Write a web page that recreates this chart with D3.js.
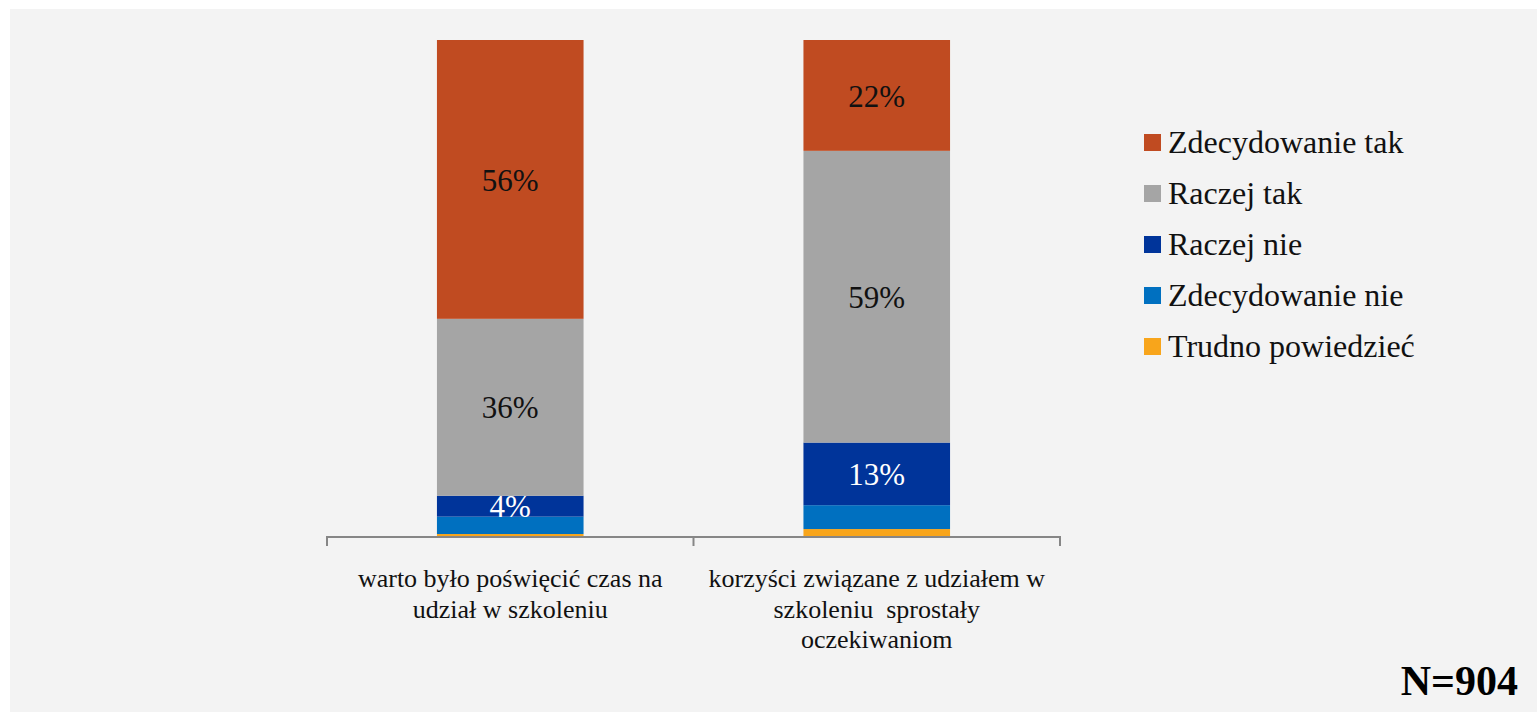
<!DOCTYPE html>
<html lang="pl">
<head>
  <meta charset="UTF-8" />
  <title>Ocena szkolenia</title>
  <style>
    body { margin: 0; background: #ffffff; }
    svg text { font-family: "Liberation Serif", "Times New Roman", serif; }
  </style>
</head>
<body>
  <div id="chart"></div>

  <script src="https://d3js.org/d3.v7.min.js"></script>
  <script>
    // categories (x axis, two bars)
    const categories = [
      ["warto było poświęcić czas na", "udział w szkoleniu"],
      ["korzyści związane z udziałem w", "szkoleniu  sprostały", "oczekiwaniom"]
    ];
    const seriesNames = ["Zdecydowanie tak", "Raczej tak", "Raczej nie", "Zdecydowanie nie", "Trudno powiedzieć"];
    const seriesColors = ["#c04b21", "#a5a5a5", "#00349a", "#0070c0", "#f8a51b"];
    // percent per series, one value per bar
    const zdecydowanieTak = [56.1, 22.3];
    const raczejTak = [35.6, 58.7];
    const raczejNie = [4.2, 12.6];
    const zdecydowanieNie = [3.5, 4.8];
    const trudnoPowiedziec = [0.6, 1.6];
    const labelled = [true, true, true, false, false];   // small segments have no label
    const sampleNote = "N=904";

    const W = 1537, H = 712;
    const svg = d3.select("#chart").append("svg")
      .attr("width", W)
      .attr("height", H);

    // grey panel
    svg.append("rect")
      .attr("x", 10).attr("y", 9)
      .attr("width", W - 10).attr("height", H - 9)
      .attr("fill", "#f3f3f3");

    const allSeries = [zdecydowanieTak, raczejTak, raczejNie, zdecydowanieNie, trudnoPowiedziec];
    const rows = categories.map((c, i) => {
      const r = { idx: i };
      seriesNames.forEach((s, j) => r[s] = allSeries[j][i]);
      return r;
    });

    const color = d3.scaleOrdinal().domain(seriesNames).range(seriesColors);

    const x = d3.scaleBand()
      .domain(d3.range(categories.length))
      .range([327, 1060])
      .paddingInner(0)
      .paddingOuter(0);
    const barW = x.bandwidth() * 0.4;

    const y = d3.scaleLinear()
      .domain([0, 100])
      .range([537, 40]);

    // stack bottom-up: Trudno powiedzieć first, Zdecydowanie tak on top
    const stacked = d3.stack().keys(seriesNames.slice().reverse())(rows);

    const layers = svg.selectAll("g.layer")
      .data(stacked)
      .enter().append("g")
      .attr("class", "layer")
      .attr("fill", d => color(d.key));

    layers.selectAll("rect")
      .data(d => d)
      .enter().append("rect")
      .attr("x", d => x(d.data.idx) + (x.bandwidth() - barW) / 2)
      .attr("y", d => y(d[1]))
      .attr("width", barW)
      .attr("height", d => y(d[0]) - y(d[1]));

    // value labels
    stacked.forEach(layer => {
      const i = seriesNames.indexOf(layer.key);
      if (!labelled[i]) return;
      svg.append("g").selectAll("text")
        .data(layer)
        .enter().append("text")
        .attr("x", d => x(d.data.idx) + x.bandwidth() / 2)
        .attr("y", d => (y(d[0]) + y(d[1])) / 2)
        .attr("dy", "0.36em")
        .attr("text-anchor", "middle")
        .style("font-size", "31px")
        .attr("fill", i === 2 ? "#ffffff" : "#111111")
        .text(d => Math.round(d[1] - d[0]) + "%");
    });

    // x axis
    const xAxis = svg.append("g")
      .attr("transform", "translate(0,537)")
      .call(d3.axisBottom(x).tickSize(0).tickFormat(""));
    xAxis.select(".domain").attr("stroke", "#868686").attr("stroke-width", 2)
      .attr("d", "M327,9V0H1060V9");
    xAxis.selectAll(".tick").remove();
    xAxis.append("line")
      .attr("x1", x(1)).attr("x2", x(1))
      .attr("y1", 0).attr("y2", 9)
      .attr("stroke", "#868686").attr("stroke-width", 2);

    // category labels
    categories.forEach((lines, i) => {
      const t = svg.append("text")
        .attr("text-anchor", "middle")
        .style("font-size", "26px")
        .attr("fill", "#111111");
      lines.forEach((ln, k) => {
        t.append("tspan")
          .attr("x", x(i) + x.bandwidth() / 2)
          .attr("y", 587 + k * 30.5)
          .style("white-space", "pre")
          .text(ln);
      });
    });

    // legend
    const legend = svg.append("g").attr("transform", "translate(1144,143)");
    seriesNames.forEach((s, i) => {
      const g = legend.append("g").attr("transform", `translate(0,${i * 51})`);
      g.append("rect")
        .attr("x", 0).attr("y", -9)
        .attr("width", 17).attr("height", 17)
        .attr("fill", seriesColors[i]);
      g.append("text")
        .attr("x", 24).attr("y", 10)
        .style("font-size", "32px")
        .attr("fill", "#111111")
        .text(s);
    });

    // sample size
    svg.append("text")
      .attr("x", 1518).attr("y", 695)
      .attr("text-anchor", "end")
      .style("font-size", "42px")
      .style("font-weight", "bold")
      .attr("fill", "#000000")
      .text(sampleNote);
  </script>
</body>
</html>
